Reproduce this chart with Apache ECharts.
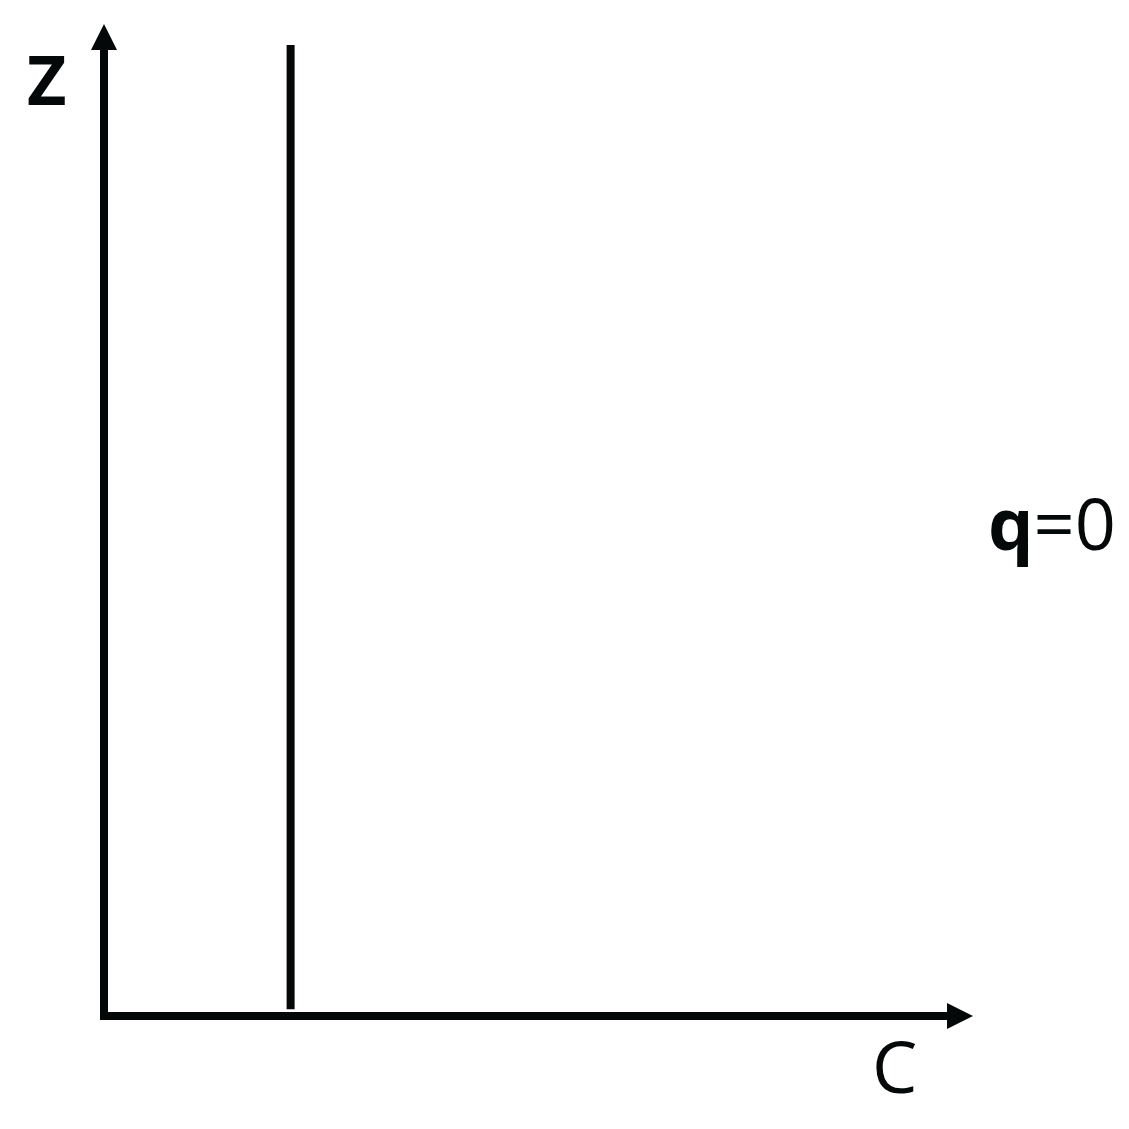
<!DOCTYPE html>
<html>
<head>
<meta charset="utf-8">
<script src="https://cdn.jsdelivr.net/npm/echarts@6/dist/echarts.min.js"></script>
<style>
  html, body { margin: 0; padding: 0; background: #fff; }
  #chart { width: 1129px; height: 1129px; }
</style>
</head>
<body>
<div id="chart"></div>
<script>
// vertical line at a fixed C value, spanning Z
const lineC = [21.8, 21.8];
const lineZ = [0.7, 100];
const axisNames = { x: 'C', y: 'Z' };
const stateLabel = { bold: 'q', rest: '=0' };

const ink = '#050808';
const font = 'Open Sans';

const chart = echarts.init(document.getElementById('chart'));

function axisStyle(offset) {
  return {
    show: true,
    symbol: ['none', 'triangle'],
    symbolSize: [26, 26],
    symbolOffset: [0, offset],
    lineStyle: { color: ink, width: 8, cap: 'square' }
  };
}

const option = {
  animation: false,
  grid: {
    left: 104,
    right: 169,
    top: 45,
    bottom: 113
  },
  xAxis: {
    type: 'value',
    min: 0,
    max: 100,
    axisLine: axisStyle(0),
    axisTick: { show: false },
    axisLabel: { show: false },
    splitLine: { show: false }
  },
  yAxis: {
    type: 'value',
    min: 0,
    max: 100,
    axisLine: axisStyle(8),
    axisTick: { show: false },
    axisLabel: { show: false },
    splitLine: { show: false }
  },
  series: [{
    type: 'line',
    data: lineC.map((c, i) => [c, lineZ[i]]),
    symbol: 'none',
    lineStyle: { color: ink, width: 8, cap: 'butt' }
  }],
  graphic: [{
    type: 'text',
    left: 27,
    top: 52,
    style: { text: axisNames.y, font: 'bold 68px "' + font + '"', fill: ink }
  }, {
    type: 'text',
    left: 872,
    top: 1036,
    style: { text: axisNames.x, font: '72px "' + font + '"', fill: ink }
  }, {
    type: 'text',
    left: 988,
    top: 493,
    style: {
      text: '{b|' + stateLabel.bold + '}{r|' + stateLabel.rest + '}',
      rich: {
        b: { fontFamily: font, fontSize: 72, fontWeight: 'bold', fill: ink, color: ink },
        r: { fontFamily: font, fontSize: 72, fill: ink, color: ink }
      }
    }
  }]
};

chart.setOption(option);
</script>
</body>
</html>
